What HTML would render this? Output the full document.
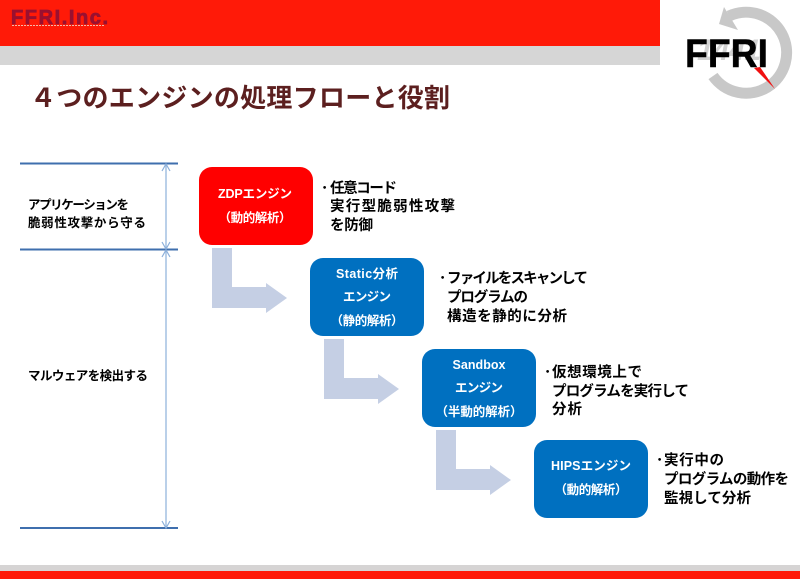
<!DOCTYPE html>
<html lang="ja">
<head>
<meta charset="utf-8">
<style>
html,body{margin:0;padding:0;background:#fff}
svg{display:block}
text{font-family:"Liberation Sans","Noto Sans CJK JP",sans-serif}
.w{fill:#fff;font-size:12.500px;text-anchor:middle;font-weight:700}
.k{fill:#000;font-size:14.500px;font-weight:700}
.l{fill:#000;font-size:12.500px;font-weight:700}
</style>
</head>
<body>
<svg width="800" height="579" viewBox="0 0 800 579" xmlns="http://www.w3.org/2000/svg">
<rect x="0" y="0" width="660" height="46" fill="#ff1a08"/>
<rect x="0" y="46" width="660" height="19" fill="#d6d6d6"/>
<text x="11" y="24" style="font-size:20px;font-weight:700" fill="#9a1030" stroke="#9a1030" stroke-width="0.800" textLength="97">FFRI.Inc.</text>
<path d="M12 25.500 h92" stroke="#f6b8a8" stroke-width="1" stroke-dasharray="2 1" fill="none"/>

<!-- logo -->
<path d="M729 16 A40.500 40.500 0 1 1 713 76" fill="none" stroke="#c8c8c8" stroke-width="11"/>
<polygon points="724,7 719,24 738,30" fill="#c8c8c8"/>
<text x="729" y="60" style="font-size:30px;font-weight:700;font-style:italic" fill="#d2d2d2" text-anchor="middle" textLength="64">1441</text>
<text x="685" y="67" style="font-size:40px;font-weight:700" fill="#000" stroke="#000" stroke-width="0.500" textLength="83" lengthAdjust="spacingAndGlyphs">FFRI</text>
<polygon points="754,68 760,67 775,89" fill="#f01010"/>

<text x="30" y="107" style="font-size:26px;font-weight:700" fill="#5c1f1f" textLength="420">４つのエンジンの処理フローと役割</text>

<!-- brackets -->
<g stroke="#3f6fae" stroke-width="2">
<line x1="20" y1="163.500" x2="178" y2="163.500"/>
<line x1="20" y1="249.500" x2="178" y2="249.500"/>
<line x1="20" y1="528" x2="178" y2="528"/>
</g>
<g stroke="#8db0da" stroke-width="1.200" fill="none">
<line x1="166" y1="164" x2="166" y2="249"/>
<line x1="166" y1="250" x2="166" y2="528"/>
<path d="M162 171 L166 164 L170 171"/>
<path d="M162 242 L166 249 L170 242"/>
<path d="M162 257 L166 250 L170 257"/>
<path d="M162 521 L166 528 L170 521"/>
</g>
<text class="l" x="28" y="209" textLength="101">アプリケーションを</text>
<text class="l" x="28" y="227" textLength="118">脆弱性攻撃から守る</text>
<text class="l" x="28" y="380" textLength="120">マルウェアを検出する</text>

<!-- arrows -->
<g fill="#c5cfe4">
<polygon points="212,248 232,248 232,287 266,287 266,283 287,298 266,313 266,308 212,308"/>
<polygon points="324,339 344,339 344,378 378,378 378,374 399,389 378,404 378,399 324,399"/>
<polygon points="436,430 456,430 456,469 490,469 490,465 511,480 490,495 490,490 436,490"/>
</g>

<!-- boxes -->
<rect x="199" y="167" width="114" height="78" rx="13" fill="#ff0000"/>
<rect x="310" y="258" width="114" height="78" rx="13" fill="#0070c0"/>
<rect x="422" y="349" width="114" height="78" rx="13" fill="#0070c0"/>
<rect x="534" y="440" width="114" height="78" rx="13" fill="#0070c0"/>

<text class="w" x="255" y="198" textLength="74">ZDPエンジン</text>
<text class="w" x="255" y="222" textLength="73">（動的解析）</text>

<text class="w" x="367" y="278" textLength="62">Static分析</text>
<text class="w" x="367" y="301" textLength="48">エンジン</text>
<text class="w" x="367" y="325" textLength="73">（静的解析）</text>

<text class="w" x="479" y="369" textLength="53">Sandbox</text>
<text class="w" x="479" y="392" textLength="48">エンジン</text>
<text class="w" x="479" y="416" textLength="87">（半動的解析）</text>

<text class="w" x="591" y="470" textLength="80">HIPSエンジン</text>
<text class="w" x="591" y="494" textLength="73">（動的解析）</text>

<!-- descriptions -->
<text class="k" x="321" y="193">･</text>
<text class="k" x="330" y="193" textLength="67">任意コード</text>
<text class="k" x="330" y="211" textLength="125">実行型脆弱性攻撃</text>
<text class="k" x="330" y="230" textLength="43">を防御</text>

<text class="k" x="439" y="283">･</text>
<text class="k" x="447" y="283" textLength="141">ファイルをスキャンして</text>
<text class="k" x="447" y="302" textLength="81">プログラムの</text>
<text class="k" x="447" y="321" textLength="120">構造を静的に分析</text>

<text class="k" x="544" y="377">･</text>
<text class="k" x="552" y="377" textLength="90">仮想環境上で</text>
<text class="k" x="552" y="396" textLength="137">プログラムを実行して</text>
<text class="k" x="552" y="414" textLength="30">分析</text>

<text class="k" x="656" y="465">･</text>
<text class="k" x="664" y="465" textLength="60">実行中の</text>
<text class="k" x="664" y="484" textLength="125">プログラムの動作を</text>
<text class="k" x="664" y="503" textLength="87">監視して分析</text>

<!-- footer -->
<rect x="0" y="565" width="800" height="6" fill="#d6d4d4"/>
<rect x="0" y="571" width="800" height="8" fill="#ff1a08"/>
</svg>
</body>
</html>
